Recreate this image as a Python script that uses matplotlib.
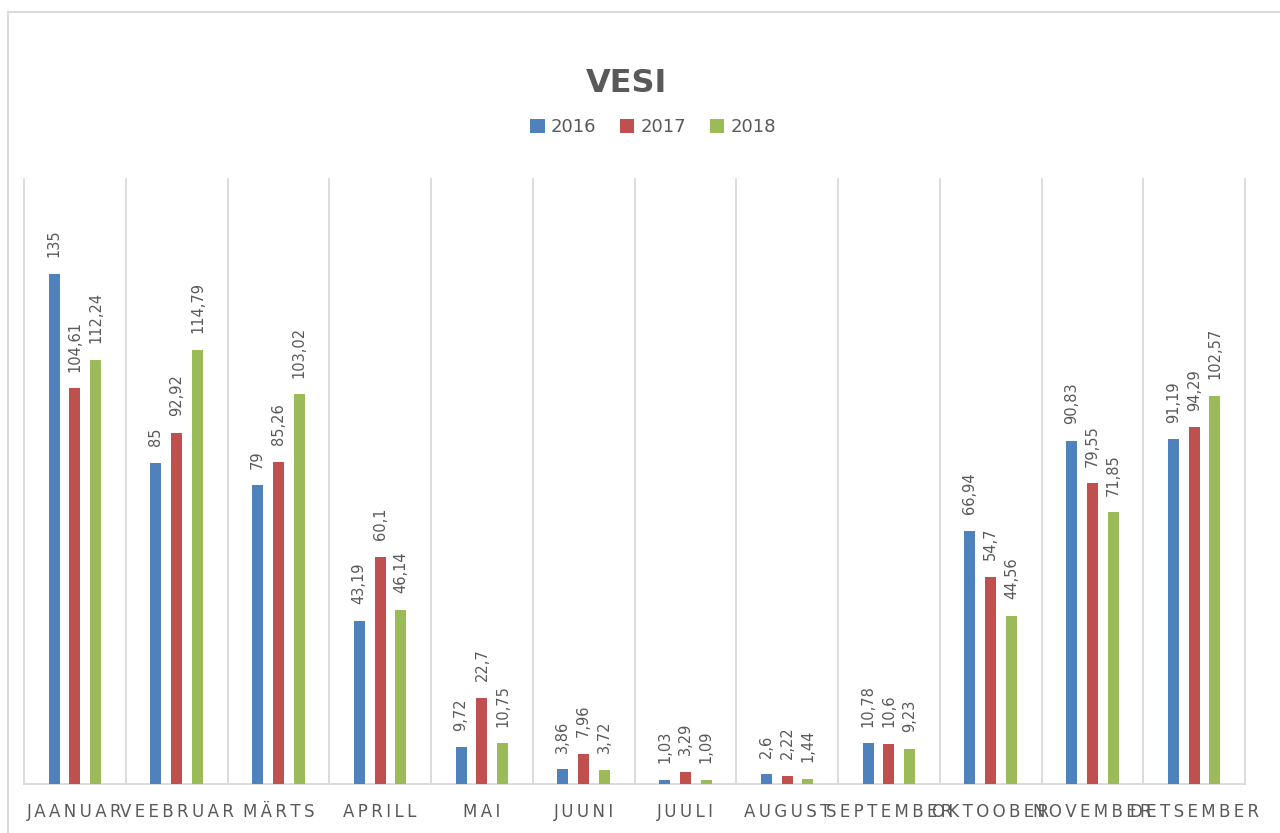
import numpy as np
import matplotlib.pyplot as plt
from matplotlib.patches import Patch
from matplotlib.lines import Line2D

plt.rcParams["font.family"] = ["DejaVu Sans"]

months = ["JAANUAR", "VEEBRUAR", "MÄRTS", "APRILL", "MAI", "JUUNI",
          "JUULI", "AUGUST", "SEPTEMBER", "OKTOOBER", "NOVEMBER", "DETSEMBER"]
years = ["2016", "2017", "2018"]
v2016 = [135, 85, 79, 43.19, 9.72, 3.86, 1.03, 2.6, 10.78, 66.94, 90.83, 91.19]
v2017 = [104.61, 92.92, 85.26, 60.1, 22.7, 7.96, 3.29, 2.22, 10.6, 54.7, 79.55, 94.29]
v2018 = [112.24, 114.79, 103.02, 46.14, 10.75, 3.72, 1.09, 1.44, 9.23, 44.56, 71.85, 102.57]
colors = ["#4F81BD", "#C0504D", "#9BBB59"]

text_gray = "#595959"
grid_gray = "#D9D9D9"

fig = plt.figure(figsize=(12.8, 8.33), dpi=100)
ax = fig.add_axes([24 / 1280, 1 - 784 / 833, (1245 - 24) / 1280, (784 - 179) / 833])

x = np.arange(len(months))
width = 0.108
offsets = [-0.205, 0, 0.205]
for vals, off, col in zip([v2016, v2017, v2018], offsets, colors):
    bars = ax.bar(x + off, vals, width, color=col, zorder=3)
    for b, v in zip(bars, vals):
        lab = f"{v:g}".replace(".", ",")
        ax.annotate(lab, (b.get_x() + b.get_width() / 2, v), xytext=(0, 12),
                    textcoords="offset points", rotation=90, ha="center",
                    va="bottom", fontsize=10.5, color=text_gray)

ax.set_xlim(-0.5, len(months) - 0.5)
ax.set_ylim(0, 160)

# category separators
for b in np.arange(-0.5, len(months), 1):
    ax.axvline(b, color=grid_gray, lw=1.3, zorder=1, clip_on=False)

for s in ["top", "left", "right"]:
    ax.spines[s].set_visible(False)
ax.spines["bottom"].set_color(grid_gray)
ax.spines["bottom"].set_linewidth(1.3)
ax.set_yticks([])
ax.set_xticks(x)
ax.set_xticklabels(["\u2009".join(m) for m in months], fontsize=12, color=text_gray)
ax.tick_params(axis="x", length=0, pad=14)

fig.text(627 / 1280, 1 - 84 / 833, "VESI", ha="center", va="center",
         fontsize=23, fontweight="bold", color=text_gray)

handles = [Patch(facecolor=c, edgecolor="none") for c in colors]
fig.legend(handles, years, loc="center", bbox_to_anchor=(653 / 1280, 1 - 127 / 833),
           ncol=3, frameon=False, fontsize=13, handlelength=0.8, handleheight=0.8,
           handletextpad=0.35, columnspacing=1.3, labelcolor=text_gray)

# outer chart frame (left and top edges visible)
fig.add_artist(Line2D([8 / 1280, 8 / 1280], [0, 1 - 12 / 833], transform=fig.transFigure,
                      color=grid_gray, lw=1.5))
fig.add_artist(Line2D([8 / 1280, 1], [1 - 12 / 833, 1 - 12 / 833], transform=fig.transFigure,
                      color=grid_gray, lw=1.5))

fig.savefig("out.png", dpi=100)
